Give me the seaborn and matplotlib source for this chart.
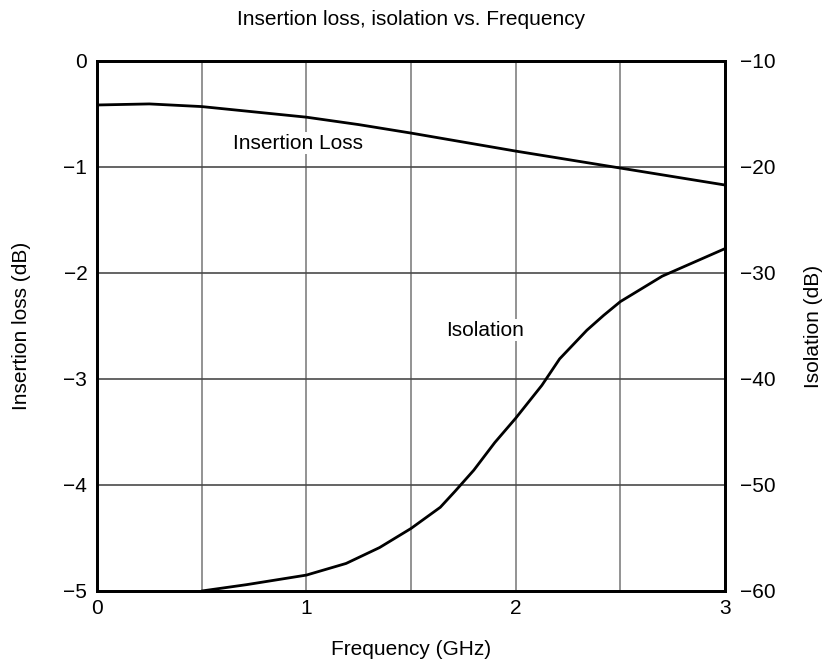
import matplotlib
matplotlib.use("Agg")
import matplotlib.pyplot as plt
import seaborn as sns
import pandas as pd

# Insertion loss curve (left axis, dB)
il_freq = [0.0, 0.25, 0.5, 0.75, 1.0, 1.25, 1.5, 2.0, 2.5, 3.0]
il_db = [-0.415, -0.405, -0.43, -0.48, -0.53, -0.60, -0.68, -0.85, -1.01, -1.17]

# Isolation curve (right axis, dB)
iso_freq = [0.5, 0.715, 1.0, 1.19, 1.35, 1.5, 1.64, 1.71, 1.8, 1.9, 2.0,
            2.125, 2.21, 2.34, 2.42, 2.5, 2.7, 3.0]
iso_db = [-60.0, -59.4, -58.5, -57.4, -55.9, -54.1, -52.1, -50.6, -48.6, -46.0, -43.7,
          -40.6, -38.1, -35.4, -34.0, -32.7, -30.3, -27.7]

x_ticks = [0, 1, 2, 3]
left_ticks = [0, -1, -2, -3, -4, -5]
right_ticks = [-10, -20, -30, -40, -50, -60]

sns.set_theme(style="white")
plt.rcParams['font.family'] = ['Liberation Sans', 'DejaVu Sans']
plt.rcParams['text.color'] = 'black'
plt.rcParams['axes.labelcolor'] = 'black'
plt.rcParams['xtick.color'] = 'black'
plt.rcParams['ytick.color'] = 'black'
FS = 15

fig = plt.figure(figsize=(8.25, 6.63), dpi=100)
ax = fig.add_axes([0.1176, 0.1086, 0.7612, 0.7994])
ax2 = ax.twinx()

il_df = pd.DataFrame({'freq': il_freq, 'loss': il_db})
iso_df = pd.DataFrame({'freq': iso_freq, 'iso': iso_db})

sns.lineplot(data=il_df, x='freq', y='loss', ax=ax, color='black', linewidth=2)
sns.lineplot(data=iso_df, x='freq', y='iso', ax=ax2, color='black', linewidth=2)

ax.set_xlim(0, 3)
ax.set_ylim(-5, 0)
ax2.set_ylim(-60, -10)

# grid: vertical every 0.5 GHz, horizontal every 1 dB
for v in [0.5, 1.0, 1.5, 2.0, 2.5]:
    ax.axvline(v, color='#808080', linewidth=1.2, zorder=0)
for h in [-1, -2, -3, -4]:
    ax.axhline(h, color='#4a4a4a', linewidth=1.2, zorder=0)

ax.set_xticks(x_ticks)
ax.set_xticklabels([str(t) for t in x_ticks], fontsize=FS)
ax.set_yticks(left_ticks)
ax.set_yticklabels([str(t).replace('-', '\u2212') for t in left_ticks], fontsize=FS)
ax2.set_yticks(right_ticks)
ax2.set_yticklabels([str(t).replace('-', '\u2212') for t in right_ticks], fontsize=FS)
ax.tick_params(axis='x', length=0, pad=6)
ax.tick_params(axis='y', length=0, pad=7)
ax2.tick_params(length=0, pad=11)

ax.set_xlabel('Frequency (GHz)', fontsize=FS)
ax.set_ylabel('Insertion loss (dB)', fontsize=FS)
ax2.set_ylabel('Isolation (dB)', fontsize=FS)
ax.xaxis.set_label_coords(0.5, -0.092)
ax.yaxis.set_label_coords(-0.105, 0.5)
ax2.yaxis.set_label_coords(1.126, 0.5)
ax.set_title('Insertion loss, isolation vs. Frequency', fontsize=FS, pad=26)

for sp in list(ax.spines.values()) + list(ax2.spines.values()):
    sp.set_color('black')
    sp.set_linewidth(2)

ax.text(0.96, -0.774, 'Insertion Loss', fontsize=FS, ha='center', va='center',
        bbox=dict(facecolor='white', edgecolor='none', pad=1))
ax2.text(1.854, -35.4, 'Isolation', fontsize=FS, ha='center', va='center',
         bbox=dict(facecolor='white', edgecolor='none', pad=1))

fig.savefig('out.png', dpi=100)
